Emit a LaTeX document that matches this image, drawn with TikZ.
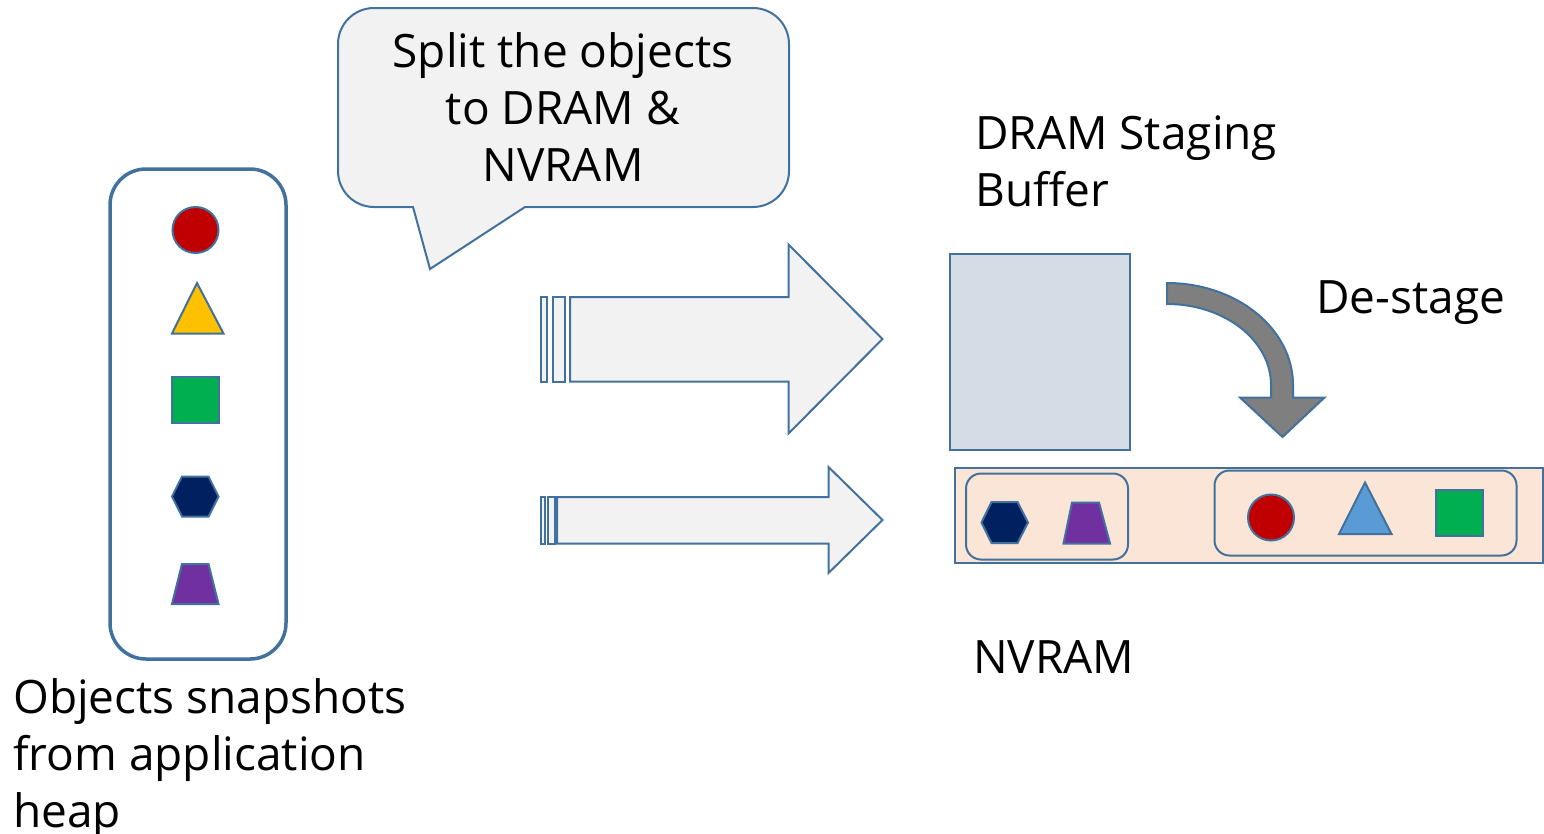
\documentclass[tikz,border=0pt]{standalone}
\usepackage{fontspec}
\setmainfont{Open Sans}
\definecolor{edge}{HTML}{41719C}
\definecolor{paper}{HTML}{F2F2F2}
\definecolor{dramfill}{HTML}{D6DCE5}
\definecolor{nvfill}{HTML}{FBE5D6}
\definecolor{flowgray}{HTML}{7F7F7F}
\definecolor{objred}{HTML}{C00000}
\definecolor{objyellow}{HTML}{FFC000}
\definecolor{objgreen}{HTML}{00B050}
\definecolor{objnavy}{HTML}{002060}
\definecolor{objpurple}{HTML}{7030A0}
\definecolor{objblue}{HTML}{5B9BD5}
\tikzset{
  outline/.style={draw=edge, line width=2pt, line join=miter},
  obj/.style={draw=edge, line width=2pt},
  lbl/.style={inner sep=0pt, font=\fontsize{46}{57}\selectfont},
}
\begin{document}
\begin{tikzpicture}[x=1pt, y=-1pt]
\useasboundingbox (0,0) rectangle (1544,833);

% heap of objects
\draw[draw=edge, line width=3.5pt, rounded corners=36pt] (110,169) rectangle (286,659);
\draw[obj, fill=objred] (195.5,230) circle[radius=23pt];
\draw[obj, fill=objyellow] (197,283) -- (223.5,333.5) -- (172,333.5) -- cycle;
\draw[obj, fill=objgreen] (172,376.5) rectangle (218.5,422.5);
\draw[obj, fill=objnavy] (182,476.5) -- (208.5,476.5) -- (218.5,496.5) -- (208.5,516.5) -- (182,516.5) -- (172,496.5) -- cycle;
\draw[obj, fill=objpurple] (182,564) -- (208.5,564) -- (218.5,604) -- (172,604) -- cycle;
% (base anchor of a multi-line label sits on its last line)
\node[lbl, align=left, anchor=base west] (heaplbl) at (13,827) {Objects snapshots\\from application\\heap};

% speech bubble
\draw[outline, fill=paper]
  (413,207) -- (430,269) -- (525,207)
  [rounded corners=36pt] -- (789,207) -- (789,8) -- (338,8) -- (338,207)
  [sharp corners] -- cycle;
\node[lbl, align=center, anchor=base] (split) at (563,181) {Split the objects\\to DRAM \&\\NVRAM};

% upper striped block arrow
\draw[outline, fill=paper] (541,297) rectangle (547,381.5);
\draw[outline, fill=paper] (553,297) rectangle (565,381.5);
\draw[outline, fill=paper] (570,297) -- (788.5,297) -- (788.5,244.5) -- (882.5,339) -- (788.5,433.5) -- (788.5,381.5) -- (570,381.5) -- cycle;

% lower striped block arrow
\draw[outline, fill=paper] (541,497) rectangle (545,543.5);
\draw[outline, fill=paper] (548,497) rectangle (555,543.5);
\draw[outline, fill=paper] (557,497) -- (828.5,497) -- (828.5,467) -- (882.5,520) -- (828.5,573) -- (828.5,543.5) -- (557,543.5) -- cycle;

% DRAM staging buffer
\node[lbl, align=left, anchor=base west] (dramlbl) at (975,206) {DRAM Staging\\Buffer};
\draw[outline, fill=dramfill] (950,253.5) rectangle (1130,450);

% de-stage flow
\draw[outline, fill=flowgray]
  (1167,283) .. controls (1236.6,283) and (1293,328.7) .. (1293,385)
  -- (1293,397.5) -- (1324.5,397.5) -- (1282.5,437) -- (1240,397.5) -- (1271,397.5) -- (1271,385)
  .. controls (1271,340.3) and (1224.4,304) .. (1167,304) -- cycle;
\node[lbl, anchor=base west] (destage) at (1316,313) {De-stage};

% NVRAM region
\draw[outline, fill=nvfill] (955,467.5) rectangle (1542.5,562.5);
\draw[draw=edge, line width=2pt, rounded corners=15pt] (966,473.5) rectangle (1128,559.5);
\draw[draw=edge, line width=2pt, rounded corners=15pt] (1214.5,470.5) rectangle (1516.5,555.5);
\draw[obj, fill=objnavy] (991.5,502) -- (1017.5,502) -- (1028,522.5) -- (1017.5,543) -- (991.5,543) -- (981.5,522.5) -- cycle;
\draw[obj, fill=objpurple] (1072,502.5) -- (1099,502.5) -- (1110,543.5) -- (1063.5,543.5) -- cycle;
\draw[obj, fill=objred] (1271,517.5) circle[radius=23pt];
\draw[obj, fill=objblue] (1365,482.5) -- (1391.5,534) -- (1339,534) -- cycle;
\draw[obj, fill=objgreen] (1436,489.5) rectangle (1483,536);
\node[lbl, anchor=base west] (nvlbl) at (973,673) {NVRAM};
\end{tikzpicture}
\end{document}
